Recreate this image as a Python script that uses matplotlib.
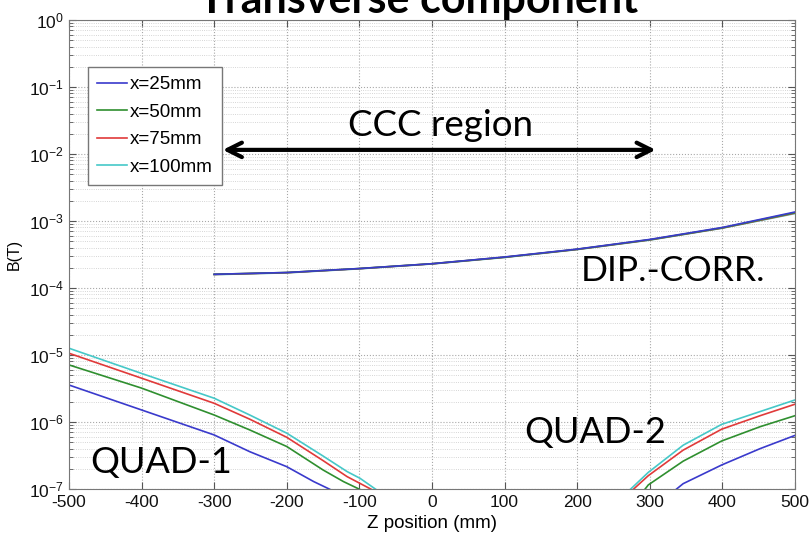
import numpy as np
import matplotlib
matplotlib.use("Agg")
import matplotlib.pyplot as plt

# legend labels and colours
labels = ["x=25mm", "x=50mm", "x=75mm", "x=100mm"]
colors = ["#3a3acc", "#2f8f2f", "#e03a3a", "#46c8c8"]

# DIP.-CORR. region (all four nearly on top of each other)
z_dip = [-300, -200, -100, 0, 100, 200, 300, 400, 500]
b_dip = [
    [1.60e-4, 1.70e-4, 1.95e-4, 2.30e-4, 2.90e-4, 3.80e-4, 5.30e-4, 8.0e-4, 1.36e-3],
    [1.60e-4, 1.70e-4, 1.95e-4, 2.30e-4, 2.88e-4, 3.78e-4, 5.25e-4, 7.9e-4, 1.33e-3],
    [1.59e-4, 1.69e-4, 1.94e-4, 2.29e-4, 2.87e-4, 3.76e-4, 5.22e-4, 7.85e-4, 1.31e-3],
    [1.58e-4, 1.68e-4, 1.93e-4, 2.28e-4, 2.85e-4, 3.74e-4, 5.18e-4, 7.8e-4, 1.29e-3],
]

# QUAD-1 tails
z_q1 = [
    [-500, -400, -300, -251, -200, -163, -140],
    [-500, -400, -300, -251, -200, -150, -122, -99],
    [-500, -400, -300, -251, -200, -150, -117, -83],
    [-500, -400, -300, -251, -200, -150, -117, -99, -77],
]
b_q1 = [
    [3.56e-6, 1.51e-6, 6.4e-7, 3.6e-7, 2.15e-7, 1.29e-7, 9.8e-8],
    [7.1e-6, 3.2e-6, 1.27e-6, 7.6e-7, 4.3e-7, 1.92e-7, 1.29e-7, 9.8e-8],
    [1.06e-5, 4.5e-6, 1.9e-6, 1.10e-6, 5.9e-7, 2.65e-7, 1.53e-7, 9.8e-8],
    [1.26e-5, 5.3e-6, 2.26e-6, 1.27e-6, 6.8e-7, 3.1e-7, 1.82e-7, 1.44e-7, 9.8e-8],
]

# QUAD-2 tails
z_q2 = [
    [336, 346, 399, 452, 500],
    [293, 298, 346, 399, 452, 500],
    [277, 298, 346, 399, 452, 500],
    [273, 298, 346, 399, 452, 500],
]
b_q2 = [
    [9.8e-8, 1.2e-7, 2.28e-7, 4.0e-7, 6.3e-7],
    [9.8e-8, 1.15e-7, 2.6e-7, 5.2e-7, 8.5e-7, 1.24e-6],
    [9.8e-8, 1.58e-7, 3.8e-7, 7.8e-7, 1.24e-6, 1.84e-6],
    [9.8e-8, 1.77e-7, 4.5e-7, 9.2e-7, 1.43e-6, 2.13e-6],
]

xticks = [-500, -400, -300, -200, -100, 0, 100, 200, 300, 400, 500]

fig = plt.figure(figsize=(8.12, 5.33), dpi=100)
ax = fig.add_axes([0.085, 0.0826, 0.894, 0.88])

for i in range(4):
    ax.plot(z_q1[i], b_q1[i], color=colors[i], lw=1.2, label=labels[i])
    ax.plot(z_q2[i], b_q2[i], color=colors[i], lw=1.2)
for i in [3, 2, 1, 0]:
    ax.plot(z_dip, b_dip[i], color=colors[i], lw=1.2)

ax.set_yscale("log")
ax.set_xlim(-500, 500)
ax.set_ylim(1e-7, 1)
ax.set_xticks(xticks)
ax.set_xticklabels([str(t) for t in xticks])
ax.grid(True, which="major", ls=":", color="#a8a8a8", lw=0.8)
ax.grid(True, which="minor", axis="y", ls=":", color="#c8c8c8", lw=0.6)
ax.tick_params(which="both", direction="in", top=True, right=True, colors="#555555",
               labelcolor="#111111", labelsize=12.5)
ax.tick_params(which="major", length=5)
ax.tick_params(which="minor", length=3)
ax.tick_params(axis="x", pad=4)
for s in ax.spines.values():
    s.set_color("#777777")
for t in ax.get_xticklabels() + ax.get_yticklabels():
    t.set_family("Liberation Sans")

ax.set_xlabel("Z position (mm)", fontsize=13.5, family="Liberation Sans", labelpad=4)
ax.set_ylabel("B(T)", fontsize=11.5, family="Liberation Sans", labelpad=5)

leg = ax.legend(loc="upper left", bbox_to_anchor=(0.026, 0.9), fancybox=False,
                prop={"family": "Liberation Sans", "size": 13.5},
                framealpha=1, edgecolor="#777777", handlelength=1.6,
                handletextpad=0.15, borderpad=0.5, labelspacing=0.55,
                borderaxespad=0)
leg.get_frame().set_linewidth(1.0)

# annotations
ax.annotate("", xy=(-292, 1.15e-2), xytext=(312, 1.15e-2),
            arrowprops=dict(arrowstyle="<->", color="black", lw=3,
                            mutation_scale=26))
ax.text(12, 2.7e-2, "CCC region", fontsize=26.5, family="Lato", ha="center", va="center")
ax.text(-471, 2.5e-7, "QUAD-1", fontsize=26, family="Lato", ha="left", va="center")
ax.text(127, 7.0e-7, "QUAD-2", fontsize=26, family="Lato", ha="left", va="center")
ax.text(205, 1.8e-4, "DIP.-CORR.", fontsize=25.5, family="Lato", ha="left", va="center")

fig.text(0.516, 1 - 13 / 533, "Transverse component", fontsize=31, family="Lato",
         weight="bold", ha="center", va="baseline")

fig.savefig("out.png", dpi=100)
